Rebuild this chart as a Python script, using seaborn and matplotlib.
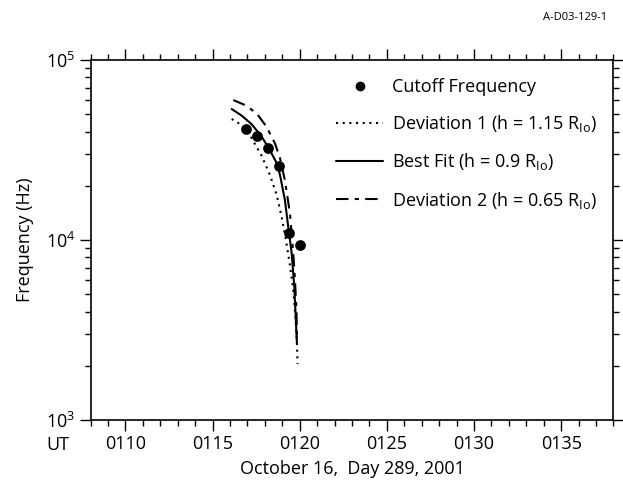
import numpy as np
import matplotlib
matplotlib.use("Agg")
import matplotlib.pyplot as plt
import seaborn as sns
from matplotlib.lines import Line2D
from matplotlib.ticker import MultipleLocator, FuncFormatter, LogLocator, NullFormatter

# time in minutes after 0100 UT, frequency in Hz
obs_time = [16.92, 17.56, 18.16, 18.79, 19.38, 19.99]
obs_freq = [41400, 37700, 32600, 25800, 11000, 9360]

fit_time = [16.10, 16.67, 17.24, 17.82, 18.29, 18.68, 18.87, 19.15, 19.34, 19.54, 19.69, 19.78, 19.84]
fit_freq = [53400, 49100, 44000, 37500, 31600, 26700, 23000, 16700, 11900, 8430, 5500, 3590, 2670]

dev1_time = [16.10, 16.67, 17.24, 17.82, 18.29, 18.68, 18.96, 19.21, 19.44, 19.63, 19.77, 19.84, 19.88]
dev1_freq = [47000, 43500, 36900, 29300, 23000, 17800, 13500, 10000, 7260, 5270, 3590, 2680, 2050]

dev2_time = [16.19, 16.86, 17.53, 18.10, 18.58, 18.87, 19.15, 19.44, 19.63, 19.73, 19.82, 19.84]
dev2_freq = [59900, 56200, 50600, 42500, 34400, 28500, 21500, 14100, 8430, 5990, 3920, 2960]

sns.set_style("ticks")
plt.rcParams['font.family'] = ['Open Sans', 'DejaVu Sans']
plt.rcParams['mathtext.fontset'] = 'custom'
plt.rcParams['mathtext.rm'] = 'Open Sans'
plt.rcParams['mathtext.it'] = 'Open Sans:italic'
plt.rcParams['text.color'] = 'black'
plt.rcParams['axes.labelcolor'] = 'black'

fig = plt.figure(figsize=(6.23, 4.87), dpi=100)
ax = fig.add_axes([0.1453, 0.1376, 0.8394, 0.7392])

lw = 1.5
dotted = (0, (1, 2.2))
dashdot = (0, (6, 3, 2, 3))
sns.lineplot(x=dev1_time, y=dev1_freq, ax=ax, color='black', lw=lw,
             linestyle=dotted, sort=False, estimator=None)
sns.lineplot(x=fit_time, y=fit_freq, ax=ax, color='black', lw=lw,
             sort=False, estimator=None)
sns.lineplot(x=dev2_time, y=dev2_freq, ax=ax, color='black', lw=lw,
             linestyle=dashdot, sort=False, estimator=None)
sns.scatterplot(x=obs_time, y=obs_freq, ax=ax, color='black', s=60,
                edgecolor='black', linewidth=0, zorder=5)

ax.set_yscale('log')
ax.set_xlim(8, 38)
ax.set_ylim(1e3, 1e5)

ax.xaxis.set_major_locator(MultipleLocator(5))
ax.xaxis.set_minor_locator(MultipleLocator(1))
ax.xaxis.set_major_formatter(FuncFormatter(lambda v, p: "01%02d" % int(round(v))))
ax.yaxis.set_major_locator(LogLocator(base=10, numticks=5))
ax.yaxis.set_minor_locator(LogLocator(base=10, subs=np.arange(2, 10), numticks=20))
ax.yaxis.set_minor_formatter(NullFormatter())

ax.tick_params(which='major', direction='out', length=8, width=1, labelsize=13,
               top=True, right=True, color='black', labelcolor='black', pad=3)
ax.tick_params(which='minor', direction='out', length=4.5, width=1,
               top=True, right=True, color='black')
for s in ax.spines.values():
    s.set_linewidth(1.2)
    s.set_color('black')

ax.set_xlabel("October 16,  Day 289, 2001", fontsize=13, labelpad=5)
ax.set_ylabel("Frequency (Hz)", fontsize=13, labelpad=8)
ax.text(-0.04, -0.045, "UT", transform=ax.transAxes, fontsize=13,
        ha='right', va='top')
fig.text(0.975, 0.965, "A-D03-129-1", fontsize=8, ha='right', va='center')

handles = [
    Line2D([], [], color='black', marker='o', markersize=6, linestyle='none'),
    Line2D([], [], color='black', lw=lw, linestyle=dotted),
    Line2D([], [], color='black', lw=lw),
    Line2D([], [], color='black', lw=lw, linestyle=dashdot),
]
labels = [
    "Cutoff Frequency",
    r"Deviation 1 (h = 1.15 R$_{\mathrm{Io}}$)",
    r"Best Fit (h = 0.9 R$_{\mathrm{Io}}$)",
    r"Deviation 2 (h = 0.65 R$_{\mathrm{Io}}$)",
]
ax.legend(handles, labels, loc='upper right', bbox_to_anchor=(1.0, 0.995),
          frameon=False, fontsize=13, handlelength=2.6, handletextpad=0.5,
          labelspacing=0.95)

fig.savefig("out.png", dpi=100)
